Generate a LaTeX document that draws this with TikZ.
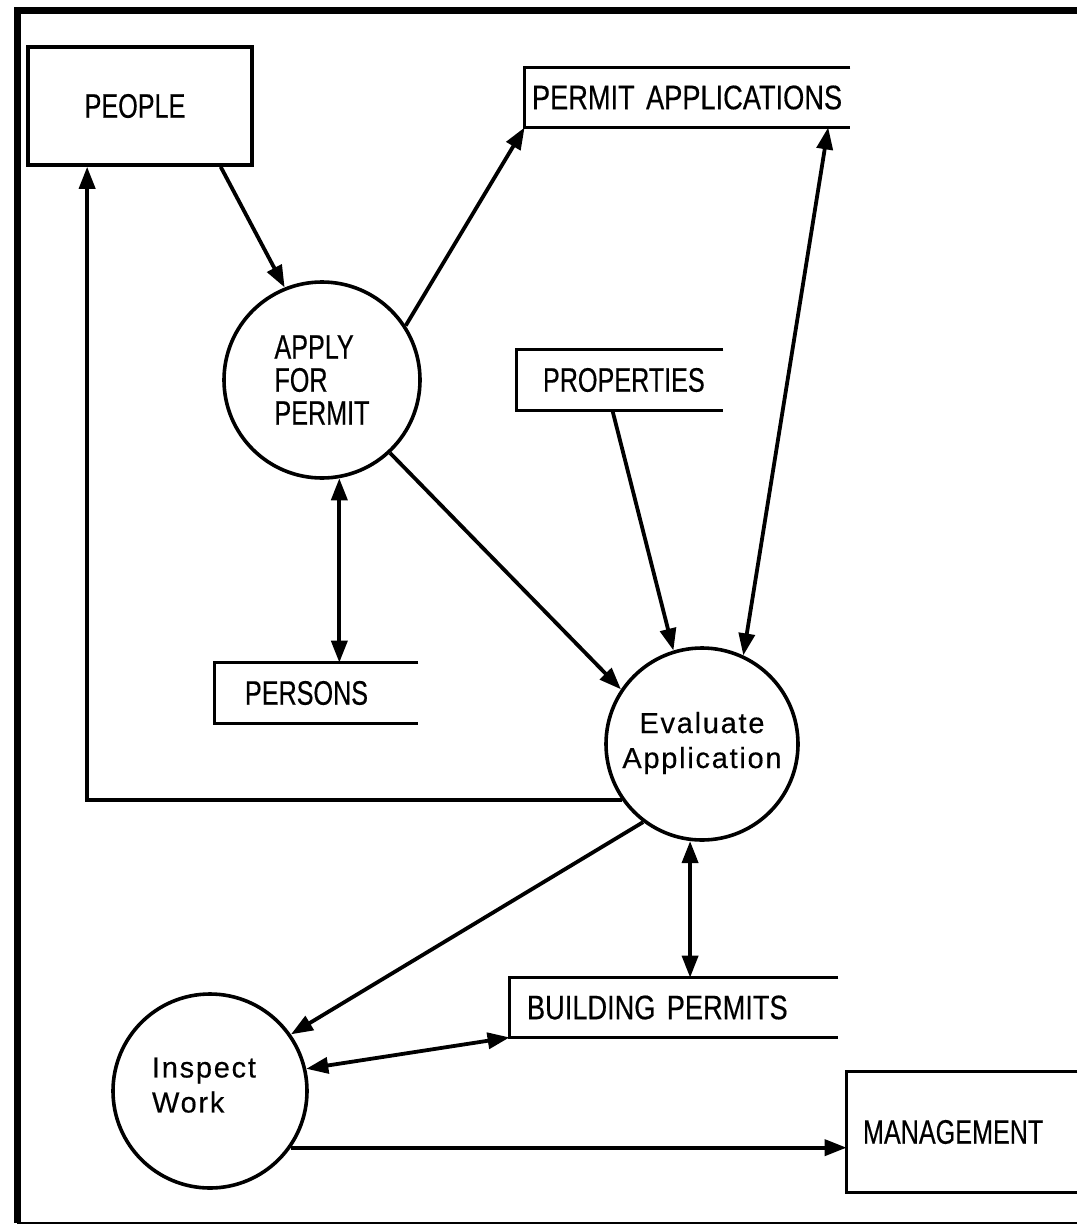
\documentclass[tikz,border=0pt]{standalone}
\usepackage{fontspec}
\setmainfont{Liberation Sans}
\newfontfamily\capfont[FakeStretch=0.74,FakeBold=0.4]{Liberation Sans}
\newfontfamily\capwide[FakeStretch=0.80,FakeBold=0.4]{Liberation Sans}
\newfontfamily\mixfont[LetterSpace=6,FakeBold=0.4]{Liberation Sans}
\usetikzlibrary{arrows.meta,calc}
\tikzset{
  conn/.style={line width=1.9pt, -{Triangle[length=11pt,width=8pt]}},
  biconn/.style={line width=1.9pt, {Triangle[length=11pt,width=8pt]}-{Triangle[length=11pt,width=8pt]}},
  entity/.style={draw, line width=1.8pt, rectangle, inner sep=0pt},
  store/.style={rectangle, draw=none, align=left, inner ysep=0pt},
  proc/.style={draw, circle, line width=1.8pt, inner sep=0pt},
  storeline/.style={line width=1.8pt, line join=miter},
  capsize/.style={font=\fontsize{17}{16.5}\selectfont},
  mixsize/.style={font=\fontsize{14.5}{17.5}\selectfont}
}
\begin{document}
\begin{tikzpicture}[x=0.5pt,y=-0.5pt]
\useasboundingbox (0,0) rectangle (1077,1225);
\fill[white] (0,0) rectangle (1077,1225);

% frame
\draw[line width=3.5pt, line join=miter] (17,1223) -- (17,11) -- (1077,11);
\draw[line width=1.2pt] (17,1223) -- (1077,1223);

% external entities
\node[entity, capsize, minimum width=112pt, minimum height=59pt] (people) at (140,106) {\capfont PEOPLE\kern5pt};
\node[store, capsize, minimum width=115pt, minimum height=60pt, inner xsep=8pt, text width=99pt] (mgmt) at (962,1132) {\rlap{\capfont MANAGEMENT}};
\draw[storeline] (mgmt.north east) -- (mgmt.north west) -- (mgmt.south west) -- (mgmt.south east);

% data stores
\node[store, capsize, minimum width=162.5pt, minimum height=29.5pt, inner xsep=3.5pt, text width=155.5pt] (permapp) at (687.5,97.5) {\rlap{\capwide PERMIT APPLICATIONS}};
\draw[storeline] (permapp.north east) -- (permapp.north west) -- (permapp.south west) -- (permapp.south east);

\node[store, capsize, minimum width=103pt, minimum height=30pt, inner xsep=13pt, text width=77pt] (properties) at (620,380) {\rlap{\capfont PROPERTIES}};
\draw[storeline] (properties.north east) -- (properties.north west) -- (properties.south west) -- (properties.south east);

\node[store, capsize, minimum width=101.5pt, minimum height=30pt, inner xsep=15pt, text width=71.5pt] (persons) at (316.5,693) {\rlap{\capfont PERSONS}};
\draw[storeline] (persons.north east) -- (persons.north west) -- (persons.south west) -- (persons.south east);

\node[store, capsize, minimum width=164pt, minimum height=29.5pt, inner xsep=8.5pt, text width=147pt] (buildperm) at (674,1007.5) {\rlap{\capwide BUILDING PERMITS}};
\draw[storeline] (buildperm.north east) -- (buildperm.north west) -- (buildperm.south west) -- (buildperm.south east);

% processes
\node[proc, capsize, minimum size=98pt, align=left] (apply) at (322,380) {\capfont APPLY\\\capfont FOR\\\capfont PERMIT};
\node[proc, mixsize, minimum size=96pt, align=center] (eval) at (702,744) {\mixfont Evaluate\\\mixfont Application\\[-13.5pt]\mbox{}};
\node[proc, mixsize, minimum size=97pt, align=left] (inspect) at (210,1091) {\mixfont Inspect\kern6pt\\\mixfont Work\\[-11.5pt]\mbox{}};

% flows
\draw[conn] (people.-37.1) -- (apply.112);
\draw[conn] (apply.33.5) -- (permapp.south west);
\draw[biconn] (apply.-80.6) -- (apply.-80.6 |- persons.north);
\draw[conn] (apply.-47.8) -- (eval.146);
\draw[conn] (properties.-104.9) -- (eval.107);
\draw[biconn] (permapp.-12.85) -- (eval.65);
\draw[conn] (eval.-145.6) -| (people.-131.9);
\draw[conn] (eval.-127.8) -- (inspect.35.7);
\draw[biconn] (eval.-97.2) -- (eval.-97.2 |- buildperm.north);
\draw[biconn] (inspect.13) -- (buildperm.south west);
\draw[conn] (inspect.-35) -- (inspect.-35 -| mgmt.west);
\end{tikzpicture}
\end{document}
